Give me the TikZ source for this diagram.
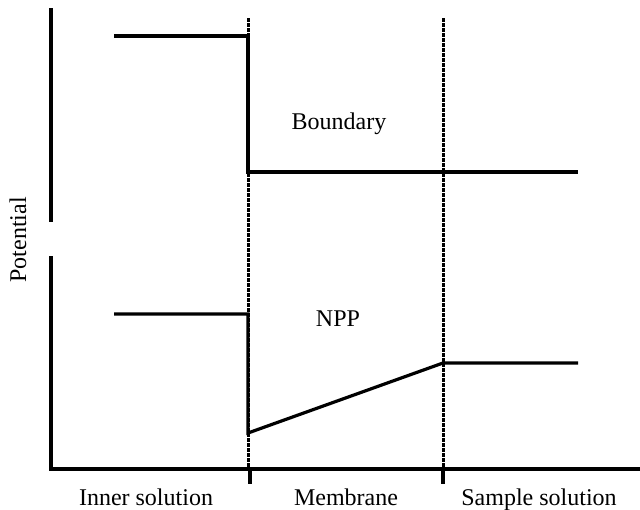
\documentclass[tikz,border=0pt]{standalone}
\usepackage{fontspec}
\setmainfont{Liberation Serif}
\begin{document}
\begin{tikzpicture}[x=1pt,y=-1pt,
  solidline/.style={line width=3.2pt, line cap=butt, line join=miter},
  dotline/.style={line width=3pt, dash pattern=on 3.5pt off 1.5pt},
  lbl/.style={font=\fontsize{24}{28}\selectfont, inner sep=0pt, anchor=base}]
\useasboundingbox (0,0) rectangle (640,509);
% coordinates
\coordinate (ytop) at (51,8);
\coordinate (ymid1) at (51,222);
\coordinate (ymid2) at (51,256);
\coordinate (origin) at (51,469);
\coordinate (xend) at (640,469);
\coordinate (d1top) at (248,18);
\coordinate (d1bot) at (248,469);
\coordinate (d2top) at (443,18);
\coordinate (d2bot) at (443,469);
\coordinate (t1) at (250,484);
\coordinate (t1a) at (250,469);
\coordinate (t2) at (443,484);
\coordinate (t2a) at (443,469);
% axes
\draw[solidline] (ytop) -- (ymid1);
\draw[solidline] (ymid2) -- (origin) -- (xend);
\draw[solidline] (t1a) -- (t1);
\draw[solidline] (t2a) -- (t2);
% dotted boundaries
\draw[dotline] (d1top) -- (d1bot);
\draw[dotline] (d2top) -- (d2bot);
% boundary potential
\coordinate (b1) at (114,36);
\coordinate (b2) at (248,36);
\coordinate (b3) at (248,172);
\coordinate (b4) at (578,172);
\draw[solidline] (b1) -- (b2) -- (b3) -- (b4);
% NPP potential
\coordinate (n1) at (114,314);
\coordinate (n2) at (248,314);
\coordinate (n3) at (248,433);
\coordinate (n4) at (443,363);
\coordinate (n5) at (578,363);
\draw[solidline] (n1) -- (n2) -- (n3) -- (n4) -- (n5);
% labels
\node[lbl] (boundary) at (339,129.5) {Boundary};
\node[lbl] (npp) at (338,326) {NPP};
\node[lbl, rotate=90] (potential) at (26,240) {Potential};
\node[lbl] (inner) at (146,505) {Inner solution};
\node[lbl] (membrane) at (346,505) {Membrane};
\node[lbl] (sample) at (539,505) {Sample solution};
\end{tikzpicture}
\end{document}
